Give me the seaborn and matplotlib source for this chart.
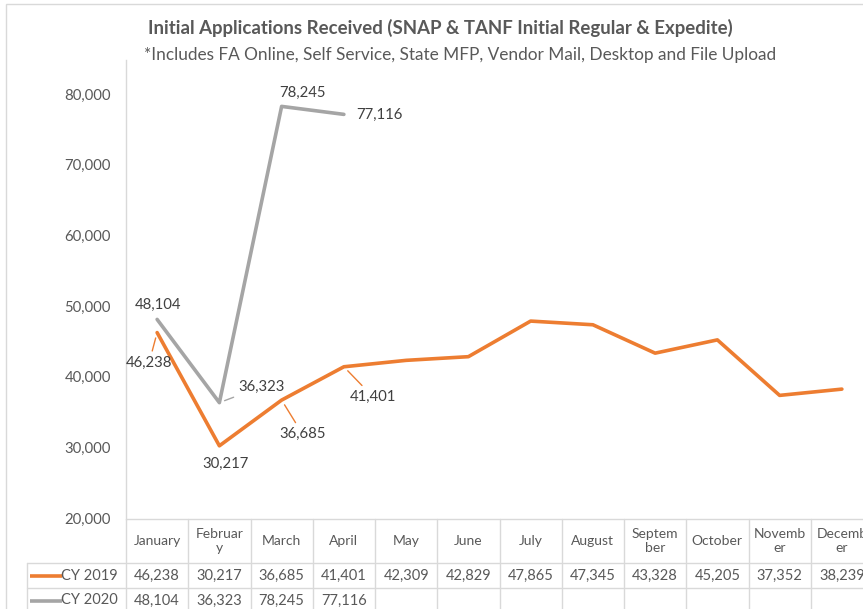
import numpy as np
import pandas as pd
import matplotlib
matplotlib.use("Agg")
import matplotlib.pyplot as plt
import seaborn as sns
from matplotlib.patches import Rectangle

# chart data
months = ["January", "February", "March", "April", "May", "June", "July",
          "August", "September", "October", "November", "December"]
month_labels = ["January", "Februar\ny", "March", "April", "May", "June", "July",
                "August", "Septem\nber", "October", "Novemb\ner", "Decemb\ner"]
cy2019 = [46238, 30217, 36685, 41401, 42309, 42829, 47865, 47345, 43328, 45205, 37352, 38239]
cy2020 = [48104, 36323, 78245, 77116]
series_names = ["CY 2019", "CY 2020"]
colors = {"CY 2019": "#ED7D31", "CY 2020": "#A5A5A5"}

# long format for seaborn
df = pd.concat([
    pd.DataFrame({"pos": range(len(cy2019)), "value": cy2019, "series": "CY 2019"}),
    pd.DataFrame({"pos": range(len(cy2020)), "value": cy2020, "series": "CY 2020"}),
])

sns.set_theme(style="white")
plt.rcParams["font.family"] = ["Lato", "DejaVu Sans"]

W, H = 863, 609
def fx(px):
    return px / W
def fy(py):
    return 1 - py / H

fig = plt.figure(figsize=(W / 100, H / 100), dpi=100)
txt = "#595959"
grid = "#D9D9D9"

# outer chart border
fig.patches.append(Rectangle((fx(6), fy(700)), 2, fy(4) - fy(700), transform=fig.transFigure,
                             fill=False, edgecolor=grid, lw=1))

fig.text(fx(440), fy(28), "Initial Applications Received (SNAP & TANF Initial Regular & Expedite)",
         ha="center", va="center", fontsize=13.4, fontweight="bold", color=txt)
fig.text(fx(460), fy(55), "*Includes FA Online, Self Service, State MFP, Vendor Mail, Desktop and File Upload",
         ha="center", va="center", fontsize=12.4, color=txt)

ax = fig.add_axes([fx(126), fy(519), fx(873) - fx(126), fy(60) - fy(519)])
sns.lineplot(data=df, x="pos", y="value", hue="series", palette=colors, lw=2.6,
             legend=False, ax=ax)
ax.set_xlim(-0.5, 11.5)
ax.set_ylim(19860, 84810)
ax.set_yticks(range(20000, 80001, 10000))
ax.set_yticklabels([f"{v:,}" for v in range(20000, 80001, 10000)])
ax.set_xticks([])
ax.set_xlabel("")
ax.set_ylabel("")
ax.tick_params(axis="y", length=0, pad=11, labelsize=10.7, labelcolor=txt)
for s in ["top", "right", "bottom"]:
    ax.spines[s].set_visible(False)
ax.spines["left"].set_color(grid)
ax.spines["left"].set_linewidth(1)

# data labels (offsets in pixels), leader lines where the original has them
label_specs = [
    ("CY 2020", 0, (1, 15), False),
    ("CY 2020", 1, (42, 16), True),
    ("CY 2020", 2, (21, 14), False),
    ("CY 2020", 3, (36, -1), False),
    ("CY 2019", 0, (-8, -30), True),
    ("CY 2019", 1, (6, -18), False),
    ("CY 2019", 2, (21, -34), True),
    ("CY 2019", 3, (29, -30), True),
]
for name, i, off, leader in label_specs:
    vals = cy2019 if name == "CY 2019" else cy2020
    kw = {}
    if leader:
        kw["arrowprops"] = dict(arrowstyle="-", color=colors[name], lw=1,
                                shrinkA=1, shrinkB=4)
    ax.annotate(f"{vals[i]:,}", xy=(i, vals[i]), xytext=off, textcoords="offset pixels",
                ha="center", va="center", fontsize=10.7, color="#404040",
                annotation_clip=False, **kw)

# data table below the plot
tax = fig.add_axes([fx(126), fy(609), fx(873) - fx(126), fy(519) - fy(609)])
tax.set_xlim(-0.5, 11.5)
tax.set_ylim(609, 519)
tax.axis("off")
ppu = (873 - 126) / 12
left_edge = -0.5 - (126 - 27) / ppu

line_kw = dict(color=grid, lw=1, clip_on=False)
tax.plot([-0.5, 11.5], [519, 519], **line_kw)
tax.plot([left_edge, 11.5], [563, 563], **line_kw)
tax.plot([left_edge, 11.5], [588, 588], **line_kw)
tax.plot([left_edge, left_edge], [563, 615], **line_kw)
for k in range(13):
    tax.plot([k - 0.5, k - 0.5], [519, 615], **line_kw)

for i, lab in enumerate(month_labels):
    tax.text(i, 541, lab, ha="center", va="center", fontsize=10, color=txt, linespacing=1.3)

rows = [(series_names[0], cy2019, 575.5), (series_names[1], cy2020, 600.5)]
for name, vals, yy in rows:
    tax.plot([-0.5 - 96 / ppu, -0.5 - 64 / ppu], [yy, yy], color=colors[name], lw=2.6,
             clip_on=False, solid_capstyle="butt")
    tax.text(-0.5 - 8 / ppu, yy, name, ha="right", va="center", fontsize=10.5, color=txt)
    for i, v in enumerate(vals):
        tax.text(i, yy, f"{v:,}", ha="center", va="center", fontsize=10.5, color=txt)

fig.savefig("out.png", dpi=100)
